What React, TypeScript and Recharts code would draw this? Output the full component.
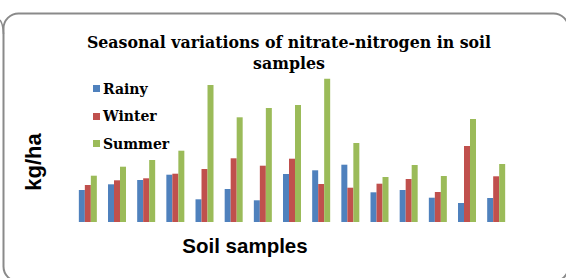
import { BarChart, Bar, XAxis, YAxis, Legend } from 'recharts'

const samples = ['S1', 'S2', 'S3', 'S4', 'S5', 'S6', 'S7', 'S8', 'S9', 'S10', 'S11', 'S12', 'S13', 'S14', 'S15']
const rainy = [32, 37.7, 42, 47.3, 22.7, 33, 21.7, 48, 51.7, 57.3, 29.7, 32, 24.3, 19, 24]
const winter = [37, 41.7, 43.7, 48.3, 53, 63.7, 56.3, 63.3, 38, 34.3, 38.3, 43, 30, 76, 45.7]
const summer = [46.3, 55.3, 62, 71.3, 137, 104.7, 114, 117, 143.3, 79, 45, 57, 46, 103, 58]

const seasons = [
  { key: 'Rainy', color: '#4F81BD' },
  { key: 'Winter', color: '#C0504D' },
  { key: 'Summer', color: '#9BBB59' },
]

const data = samples.map((s, i) => ({
  sample: s,
  Rainy: rainy[i],
  Winter: winter[i],
  Summer: summer[i],
}))

const serif = '"DejaVu Serif", serif'
const sans = '"Liberation Sans", Arial, sans-serif'

function SeasonLegend() {
  return (
    <div>
      {seasons.map(s => (
        <div key={s.key} style={{ display: 'flex', alignItems: 'center', height: 27.5 }}>
          <span style={{ width: 7, height: 7, background: s.color, marginRight: 3 }} />
          <span style={{ fontFamily: serif, fontWeight: 'bold', fontSize: 14, color: '#000' }}>{s.key}</span>
        </div>
      ))}
    </div>
  )
}

export default function App() {
  return (
    <div style={{ position: 'absolute', left: 0, top: 0, width: 566, height: 278, background: '#fff', overflow: 'hidden' }}>
      <svg width={566} height={278} style={{ position: 'absolute', left: 0, top: 0 }}>
        <rect x={3.5} y={13.5} width={565} height={268} rx={15} ry={15} fill="none" stroke="#8a8a8a" strokeWidth={2} />
        <path d="M0,20 Q3,24 3.5,34" fill="none" stroke="#8a8a8a" strokeWidth={1.5} />
      </svg>
      <div
        style={{
          position: 'absolute', left: 70, width: 438, top: 32, textAlign: 'center',
          fontFamily: serif, fontWeight: 'bold', fontSize: 15.8, lineHeight: '21px', color: '#000',
        }}
      >
        Seasonal variations of nitrate-nitrogen in soil samples
      </div>
      <div
        style={{
          position: 'absolute', left: 34, top: 162, transform: 'translate(-50%, -50%) rotate(-90deg)',
          fontFamily: sans, fontWeight: 'bold', fontSize: 22, color: '#000', whiteSpace: 'nowrap',
        }}
      >
        kg/ha
      </div>
      <div
        style={{
          position: 'absolute', left: 245, top: 246, transform: 'translate(-50%, -50%)',
          fontFamily: sans, fontWeight: 'bold', fontSize: 20.5, color: '#000', whiteSpace: 'nowrap',
        }}
      >
        Soil samples
      </div>
      <div style={{ position: 'absolute', left: 0, top: 0 }}>
        <BarChart
          width={566}
          height={278}
          data={data}
          margin={{ top: 72, right: 54.5, bottom: 56, left: 74 }}
          barCategoryGap="16.6%"
          barGap={0}
        >
          <XAxis dataKey="sample" hide />
          <YAxis domain={[0, 150]} hide />
          <Legend
            layout="vertical"
            verticalAlign="middle"
            align="center"
            content={<SeasonLegend />}
            wrapperStyle={{ left: 93, top: 75, width: 90 }}
          />
          {seasons.map(s => (
            <Bar key={s.key} dataKey={s.key} fill={s.color} isAnimationActive={false} />
          ))}
        </BarChart>
      </div>
    </div>
  )
}
